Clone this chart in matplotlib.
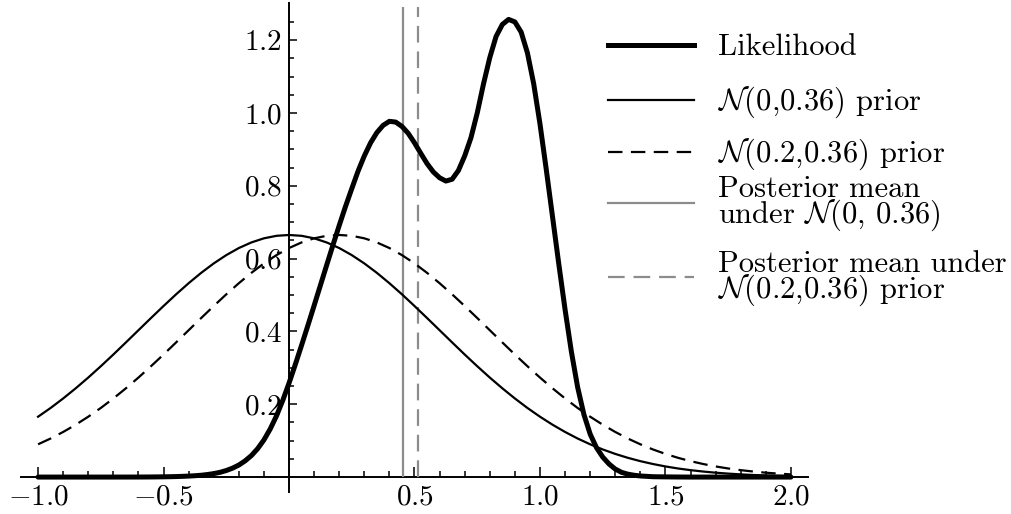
import matplotlib
matplotlib.use("Agg")
import matplotlib.pyplot as plt
from matplotlib.lines import Line2D

# ---------------- data ----------------
x_prior = [round(-1.0 + 0.05 * i, 3) for i in range(61)]
prior_0 = [0.1658, 0.1898, 0.2159, 0.2438, 0.2733, 0.3044, 0.3366, 0.3698, 0.4033, 0.4368,
           0.4698, 0.5019, 0.5324, 0.5609, 0.5868, 0.6096, 0.6290, 0.6444, 0.6557, 0.6626,
           0.6649,
           0.6626, 0.6557, 0.6444, 0.6290, 0.6096, 0.5868, 0.5609, 0.5324, 0.5019, 0.4698,
           0.4368, 0.4033, 0.3698, 0.3366, 0.3044, 0.2733, 0.2438, 0.2159, 0.1898, 0.1658,
           0.1438, 0.1239, 0.1059, 0.0900, 0.0759, 0.0636, 0.0529, 0.0437, 0.0359, 0.0292,
           0.0236, 0.0190, 0.0152, 0.0120, 0.0095, 0.0074, 0.0057, 0.0044, 0.0034, 0.0026]
prior_02 = [0.0900, 0.1059, 0.1239, 0.1438,
            0.1658, 0.1898, 0.2159, 0.2438, 0.2733, 0.3044, 0.3366, 0.3698, 0.4033, 0.4368,
            0.4698, 0.5019, 0.5324, 0.5609, 0.5868, 0.6096, 0.6290, 0.6444, 0.6557, 0.6626,
            0.6649,
            0.6626, 0.6557, 0.6444, 0.6290, 0.6096, 0.5868, 0.5609, 0.5324, 0.5019, 0.4698,
            0.4368, 0.4033, 0.3698, 0.3366, 0.3044, 0.2733, 0.2438, 0.2159, 0.1898, 0.1658,
            0.1438, 0.1239, 0.1059, 0.0900, 0.0759, 0.0636, 0.0529, 0.0437, 0.0359, 0.0292,
            0.0236, 0.0190, 0.0152, 0.0120, 0.0095, 0.0074]

x_like = ([-1.0, -0.9, -0.8, -0.7, -0.6, -0.55]
          + [round(-0.5 + 0.025 * i, 3) for i in range(79)]
          + [1.5, 1.55, 1.6, 1.7, 1.8, 1.9, 2.0])
likelihood = ([0, 0, 0, 0, 0.0001, 0.0003]
              + [0.0007, 0.001, 0.0014, 0.002, 0.0027, 0.0037, 0.005, 0.007, 0.0095, 0.013,
                 0.018, 0.0245, 0.033, 0.0445, 0.059, 0.078, 0.102, 0.132, 0.168, 0.2105,
                 0.258,
                 0.309, 0.362, 0.416, 0.471, 0.5265, 0.582, 0.637, 0.691, 0.743, 0.792,
                 0.840, 0.882, 0.918, 0.946, 0.966, 0.977, 0.975, 0.963, 0.944, 0.918,
                 0.889, 0.861, 0.838, 0.822, 0.813, 0.818, 0.842, 0.882, 0.932, 1.000,
                 1.080, 1.152, 1.210, 1.243, 1.257, 1.250, 1.222, 1.165, 1.080, 0.970,
                 0.845, 0.715, 0.585, 0.460, 0.345, 0.247, 0.172, 0.118, 0.081, 0.055,
                 0.036, 0.022, 0.013, 0.008, 0.005, 0.003, 0.002, 0.001]
              + [0.0005, 0.0002, 0, 0, 0, 0, 0])

posterior_means = [0.453, 0.513]
posterior_top = 1.29

xticks_major = [-1.0, -0.5, 0.5, 1.0, 1.5, 2.0]
xtick_labels = [r"$-1.0$", r"$-0.5$", r"$0.5$", r"$1.0$", r"$1.5$", r"$2.0$"]
xticks_minor = [round(-1.0 + 0.1 * i, 1) for i in range(31)]
yticks_major = [0.2, 0.4, 0.6, 0.8, 1.0, 1.2]
ytick_labels = [r"$0.2$", r"$0.4$", r"$0.6$", r"$0.8$", r"$1.0$", r"$1.2$"]
yticks_minor = [round(0.05 * i, 2) for i in range(1, 26)]

legend_labels = ["Likelihood",
                 r"$\mathcal{N}$(0,0.36) prior",
                 r"$\mathcal{N}$(0.2,0.36) prior",
                 "Posterior mean\nunder $\\mathcal{N}$(0, 0.36)",
                 "Posterior mean under\n$\\mathcal{N}$(0.2,0.36) prior"]

# ---------------- style ----------------
plt.rcParams["font.family"] = ["cmr10", "DejaVu Serif"]
plt.rcParams["mathtext.fontset"] = "cm"
plt.rcParams["axes.unicode_minus"] = False

W, H = 1012, 514
fig = plt.figure(figsize=(W / 100, H / 100), dpi=100)
ax = fig.add_axes([21 / W, (H - 492) / H, (808 - 21) / W, (492 - 3) / H])
ax.set_xlim(-1.068, 2.068)
ax.set_ylim(-0.041, 1.302)

gray = "#8c8c8c"
dash_black = (0, (6.5, 3.8))
dash_gray = (0, (7.5, 4.0))
ax.plot(x_prior, prior_0, color="black", lw=1.6, zorder=3)
ax.plot(x_prior, prior_02, color="black", lw=1.6, linestyle=dash_black, zorder=3)
ax.vlines(posterior_means[0], 0, posterior_top, color=gray, lw=1.6, zorder=2)
ax.vlines(posterior_means[1], 0, posterior_top, color=gray, lw=1.6,
          linestyles=[dash_gray], zorder=2)
ax.plot(x_like, likelihood, color="black", lw=3.6, solid_joinstyle="round",
        solid_capstyle="round", zorder=4)

for s in ["top", "right"]:
    ax.spines[s].set_visible(False)
ax.spines["left"].set_position(("data", 0))
ax.spines["bottom"].set_position(("data", 0))
for s in ["left", "bottom"]:
    ax.spines[s].set_linewidth(1.4)
    ax.spines[s].set_zorder(1)
ax.set_axisbelow(True)

ax.set_xticks(xticks_major, xtick_labels)
ax.set_xticks(xticks_minor, minor=True)
ax.set_yticks(yticks_major, ytick_labels)
ax.set_yticks(yticks_minor, minor=True)
ax.tick_params(axis="x", which="major", direction="in", length=7.2, width=1.1,
               labelsize=21, pad=5)
ax.tick_params(axis="x", which="minor", direction="in", length=4.2, width=1.1)
ax.tick_params(axis="y", which="major", direction="in", length=6.0, width=1.1,
               labelsize=21, pad=5)
ax.tick_params(axis="y", which="minor", direction="in", length=3.6, width=1.1)

# ---------------- legend (drawn in figure pixels) ----------------
handle_styles = [dict(color="black", lw=3.6),
                 dict(color="black", lw=1.6),
                 dict(color="black", lw=1.6, linestyle=dash_black),
                 dict(color=gray, lw=1.6),
                 dict(color=gray, lw=1.6, linestyle=dash_gray)]
handle_y = [45, 100, 152, 203, 277]
last_baseline = [55, 110, 162, 223, 298]
for style, hy, label, bl in zip(handle_styles, handle_y, legend_labels, last_baseline):
    fig.add_artist(Line2D([608 / W, 694 / W], [1 - hy / H, 1 - hy / H],
                          transform=fig.transFigure, **style))
    fig.text(718 / W, 1 - bl / H, label, fontsize=22, ha="left", va="baseline",
             linespacing=0.8)

fig.savefig("out.png", dpi=100)
